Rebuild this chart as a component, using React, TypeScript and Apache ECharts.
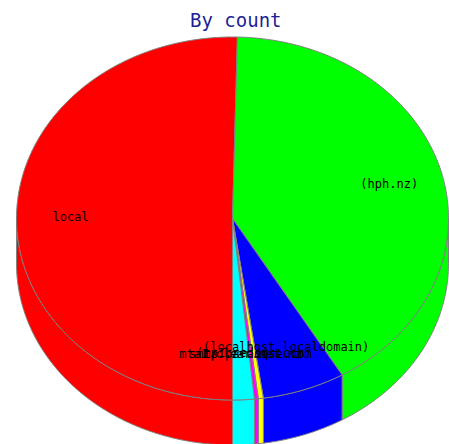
import React, { useEffect, useRef } from "react";
import * as echarts from "echarts";

// ---- data ----
const titleText = "By count";
const sliceLabels = [
  "local",
  "(hph.nz)",
  "(localhost.localdomain)",
  "(mx1.redsqu.com)",
  "smtp.paradise.com",
  "mta1.clear.net.nz",
];
const sliceCounts = [1742, 1424, 214, 13, 10, 56];
const sliceColors = ["#ff0000", "#00ff00", "#0000ff", "#ffff00", "#ff00ff", "#00ffff"];

// ---- geometry / style ----
const CX = 232.5;
const CY = 218.5;
const RX = 216;
const RY = 181.5;
const DEPTH = 45;
const START_ANGLE = 180; // degrees, clockwise from 12 o'clock
const LABEL_R = 0.75;
const EDGE = "#808080";

function pt(deg: number, dy = 0, f = 1): number[] {
  const r = (deg * Math.PI) / 180;
  return [CX + RX * f * Math.sin(r), CY - RY * f * Math.cos(r) + dy];
}

function arc(s: number, e: number, dy: number): number[][] {
  const n = Math.max(2, Math.ceil((e - s) / 0.5));
  const out: number[][] = [];
  for (let k = 0; k <= n; k++) out.push(pt(s + ((e - s) * k) / n, dy));
  return out;
}

function sliceAngles(): number[][] {
  const total = sliceCounts.reduce((a, b) => a + b, 0);
  let acc = START_ANGLE;
  return sliceCounts.map((v) => {
    const a1 = acc;
    const a2 = acc + (v / total) * 360;
    acc = a2;
    return [a1, a2];
  });
}

export default function App() {
  const ref = useRef<HTMLDivElement>(null);

  useEffect(() => {
    if (!ref.current) return;
    const chart = echarts.init(ref.current, undefined, { renderer: "svg" });
    const angles = sliceAngles();
    const data = sliceCounts.map((v, i) => [i, v]);

    const sideItem = (params: any) => {
      const i = params.dataIndex;
      const [a1, a2] = angles[i];
      const children: any[] = [];
      const windows = [
        [90, 270],
        [450, 630],
      ];
      for (const [w1, w2] of windows) {
        const s = Math.max(a1, w1);
        const e = Math.min(a2, w2);
        if (s < e) {
          const top = arc(s, e, 0);
          const bottom = arc(s, e, DEPTH).reverse();
          children.push({
            type: "polygon",
            shape: { points: top.concat(bottom) },
            style: { fill: sliceColors[i], stroke: EDGE, lineWidth: 1 },
          });
        }
      }
      return { type: "group", children };
    };

    const topItem = (params: any) => {
      const i = params.dataIndex;
      const [a1, a2] = angles[i];
      const pts = [[CX, CY]].concat(arc(a1, a2, 0));
      return {
        type: "polygon",
        shape: { points: pts },
        style: { fill: sliceColors[i], stroke: EDGE, lineWidth: 1 },
      };
    };

    const labelItem = (params: any) => {
      const i = params.dataIndex;
      const [a1, a2] = angles[i];
      const [x, y] = pt((a1 + a2) / 2, 0, LABEL_R);
      return {
        type: "text",
        style: {
          text: sliceLabels[i],
          x,
          y,
          align: "center",
          verticalAlign: "middle",
          fill: "#000000",
          font: "12px 'DejaVu Sans Mono'",
        },
      };
    };

    chart.setOption({
      animation: false,
      backgroundColor: "#ffffff",
      title: {
        text: titleText,
        left: 185,
        top: 5,
        textStyle: {
          fontFamily: "DejaVu Sans Mono",
          fontSize: 19,
          fontWeight: "normal",
          color: "#1e1e96",
        },
      },
      series: [
        { type: "custom", coordinateSystem: "none", silent: true, data, renderItem: sideItem },
        { type: "custom", coordinateSystem: "none", silent: true, data, renderItem: topItem },
        { type: "custom", coordinateSystem: "none", silent: true, data, renderItem: labelItem },
      ],
    });
    return () => chart.dispose();
  }, []);

  return (
    <div
      ref={ref}
      style={{ position: "fixed", left: 0, top: 0, width: 449, height: 444 }}
    />
  );
}
